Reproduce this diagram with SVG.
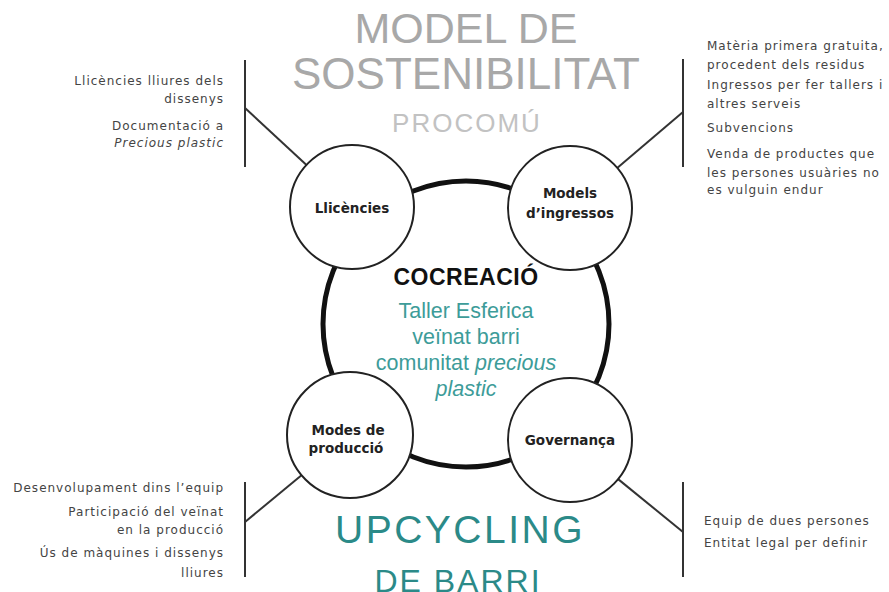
<svg xmlns="http://www.w3.org/2000/svg" width="889" height="592" viewBox="0 0 889 592">
<style>
.title{font-family:"Liberation Sans",Arial,sans-serif;fill:#a8a8a8;text-anchor:middle}
.sub{font-family:"Liberation Sans",Arial,sans-serif;fill:#c2c2c2;text-anchor:middle;font-size:26px;letter-spacing:2px}
.up{font-family:"Liberation Sans",Arial,sans-serif;fill:#2b8a88;text-anchor:middle}
.co{font-family:"Liberation Sans",Arial,sans-serif;fill:#111;font-weight:bold;font-size:23px;letter-spacing:0.5px;text-anchor:middle}
.tl{font-family:"Liberation Sans",Arial,sans-serif;fill:#3d9c99;font-size:21.5px;text-anchor:middle}
.node{fill:#fff;stroke:#222;stroke-width:2}
.lbl{font-family:"DejaVu Sans",Verdana,sans-serif;font-weight:bold;font-size:13.5px;fill:#222;text-anchor:middle}
.li{font-family:"DejaVu Sans",Verdana,sans-serif;font-size:12px;letter-spacing:1px;fill:#444}
.r{text-anchor:end}
.conn line{stroke:#333;stroke-width:2}
</style>
<rect width="889" height="592" fill="#fff"/>
<g id="titles">
<text class="title" x="466" y="43" font-size="43">MODEL DE</text>
<text class="title" x="466" y="89" font-size="44">SOSTENIBILITAT</text>
<text class="sub" x="467" y="132">PROCOMÚ</text>
<text class="up" x="460" y="543" font-size="39" letter-spacing="2.5">UPCYCLING</text>
<text class="up" x="458" y="592" font-size="32" letter-spacing="2">DE BARRI</text>
</g>
<g id="cocreacio">
<circle cx="466" cy="324" r="143" fill="#fff" stroke="#111" stroke-width="5"/>
<text class="co" x="466" y="285">COCREACIÓ</text>
<text class="tl" x="466" y="318">Taller Esferica</text>
<text class="tl" x="466" y="344">veïnat barri</text>
<text class="tl" x="466" y="370">comunitat <tspan font-style="italic">precious</tspan></text>
<text class="tl" x="466" y="396" font-style="italic">plastic</text>
</g>
<g class="conn" id="connectors">
<line x1="245" y1="60" x2="245" y2="167"/>
<line x1="245" y1="108" x2="306.5" y2="164.9"/>
<line x1="683" y1="59" x2="683" y2="167"/>
<line x1="683" y1="112" x2="617.2" y2="167.9"/>
<line x1="245" y1="482" x2="245" y2="577"/>
<line x1="245" y1="522" x2="301.5" y2="475.2"/>
<line x1="683" y1="482" x2="683" y2="577"/>
<line x1="683" y1="532" x2="618.1" y2="479.1"/>
</g>
<g id="llicencies">
<circle class="node" cx="352" cy="207" r="62"/>
<text class="lbl" x="352" y="213">Llicències</text>
</g>
<g id="models">
<circle class="node" cx="570" cy="208" r="62"/>
<text class="lbl" x="570" y="198">Models</text>
<text class="lbl" x="570" y="218">d’ingressos</text>
</g>
<g id="modes">
<circle class="node" cx="350" cy="435" r="63"/>
<text class="lbl" x="348" y="435">Modes de</text>
<text class="lbl" x="346" y="453">producció</text>
</g>
<g id="governanca">
<circle class="node" cx="570" cy="440" r="62"/>
<text class="lbl" x="570" y="445">Governança</text>
</g>
<g id="list-llicencies">
<text class="li r" x="224" y="85">Llicències lliures dels</text>
<text class="li r" x="224" y="103">dissenys</text>
<text class="li r" x="224" y="130">Documentació a</text>
<text class="li r" x="224" y="147" font-style="italic">Precious plastic</text>
</g>
<g id="list-models">
<text class="li" x="707" y="50">Matèria primera gratuita,</text>
<text class="li" x="707" y="69">procedent dels residus</text>
<text class="li" x="707" y="89">Ingressos per fer tallers i</text>
<text class="li" x="707" y="108">altres serveis</text>
<text class="li" x="707" y="132">Subvencions</text>
<text class="li" x="707" y="158">Venda de productes que</text>
<text class="li" x="707" y="177">les persones usuàries no</text>
<text class="li" x="707" y="194">es vulguin endur</text>
</g>
<g id="list-modes">
<text class="li r" x="224" y="492">Desenvolupament dins l’equip</text>
<text class="li r" x="224" y="516">Participació del veïnat</text>
<text class="li r" x="224" y="534">en la producció</text>
<text class="li r" x="224" y="557">Ús de màquines i dissenys</text>
<text class="li r" x="224" y="577">lliures</text>
</g>
<g id="list-governanca">
<text class="li" x="704" y="525">Equip de dues persones</text>
<text class="li" x="704" y="547">Entitat legal per definir</text>
</g>
</svg>
